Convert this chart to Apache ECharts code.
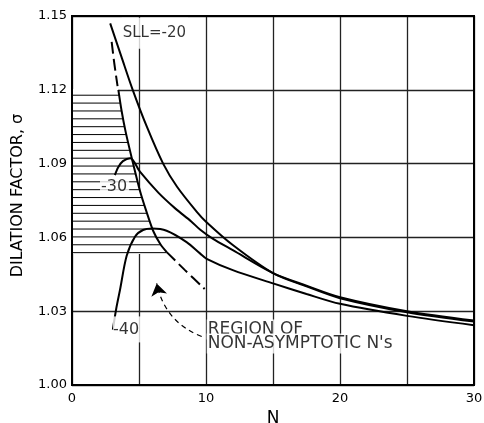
<!DOCTYPE html>
<html>
<head>
<meta charset="utf-8">
<script src="https://cdn.jsdelivr.net/npm/echarts@6/dist/echarts.min.js"></script>
<style>
  html, body { margin: 0; padding: 0; background: #fff; }
  #main { width: 484px; height: 423px; }
</style>
</head>
<body>
<div id="main"></div>
<script>
// N ticks and sigma ticks
var xTicks = [0, 10, 20, 30];
var yTicks = [1.00, 1.03, 1.06, 1.09, 1.12, 1.15];

// curves, [N, sigma]
var curve20 = [[2.85,1.147],[3.68,1.1336],[4.53,1.12],[5.6,1.1048],[6.8,1.09],[7.84,1.0806],[9.33,1.0703],[10,1.0664],[12,1.0569],[15,1.0455],[17.5,1.0401],[20,1.0353],[25,1.0296],[30,1.0258]];
var curve30 = [[3.2,1.0853],[3.45,1.0885],[3.8,1.091],[4.35,1.0922],[5.07,1.0867],[6.44,1.0782],[7.7,1.0718],[8.9,1.0665],[9.55,1.0632],[10.5,1.0595],[12,1.0548],[15,1.0455],[17.5,1.0404],[20,1.0357],[25,1.03],[30,1.0262]];
var curve40 = [[3.05,1.0225],[3.3,1.031],[3.58,1.0386],[4.08,1.0525],[4.7,1.0603],[5.3,1.063],[6.0,1.0636],[7.06,1.0627],[8.55,1.0581],[9.55,1.0535],[10.05,1.0513],[12,1.0467],[15,1.0413],[17.5,1.037],[20,1.033],[25,1.0281],[30,1.0243]];

// limit of the asymptotic region
var limitSolid = [[3.46,1.12],[3.7,1.1115],[4.0,1.103],[4.45,1.0925],[5.07,1.079],[5.57,1.0703],[6.07,1.0625],[6.6,1.0572],[7.07,1.054]];
var limitTop = [[2.96,1.1395],[3.15,1.131],[3.4,1.1215]];
var limitBottom = [[7.07,1.054],[8.43,1.0467],[9.9,1.039]];

// hatch lines: sigma level and where each one meets the limit curve
var hatchLevels = [1.1178,1.1146,1.1114,1.1082,1.105,1.1018,1.0986,1.0954,1.0922,1.089,1.0858,1.0826,1.0794,1.0762,1.073,1.0698,1.0666,1.0634,1.0602,1.057,1.0538];
var hatchEnds = [3.52,3.61,3.70,3.82,3.93,4.05,4.19,4.33,4.46,4.61,4.76,4.90,5.05,5.23,5.41,5.60,5.80,6.01,6.30,6.62,7.07];

// dashed arrow, tail then tip
var arrowPath = [[9.68,1.0197],[6.32,1.0413]];

var labelTexts = ['SLL=-20', '-30', '-40', 'REGION OF', "NON-ASYMPTOTIC N's"];
var labelAt = [[3.71,1.143],[2.09,1.0805],[3.06,1.0226],[10.05,1.0226],[10.05,1.0169]];

var FONT = '"DejaVu Sans", sans-serif';

function curveSeries(data, dash) {
    return {
        type: 'line',
        data: data,
        smooth: 0.3,
        symbol: 'none',
        silent: true,
        z: 4,
        lineStyle: { color: '#000', width: 2, type: dash || 'solid' }
    };
}

var myChart = echarts.init(document.getElementById('main'));

var labelData = labelTexts.map(function (t, i) {
    var pad = [1, 2, 1, 1];
    var size = 16;
    if (i === 0) { pad = [12, 2, 5, 1]; size = 15; }
    if (i === 2) pad = [6, 2, 6, 0];
    if (i >= 3) { pad = [3, 3, 3, 1]; size = 17; }
    return {
        value: labelAt[i],
        label: {
            show: true,
            formatter: t,
            position: 'right',
            distance: 0,
            align: 'left',
            verticalAlign: 'middle',
            fontFamily: FONT,
            fontSize: size,
            lineHeight: 14,
            color: '#000',
            backgroundColor: '#fff',
            padding: pad
        }
    };
});

myChart.setOption({
    animation: false,
    grid: {
        left: 72, top: 16, width: 402, height: 369,
        outerBoundsMode: 'none',
        show: true, borderColor: '#000', borderWidth: 2, z: 10
    },
    xAxis: {
        type: 'value', min: 0, max: 30, interval: 5,
        name: 'N', nameLocation: 'middle', nameGap: 21,
        nameTextStyle: { fontFamily: FONT, fontSize: 17, color: '#000' },
        axisLine: { show: false },
        axisTick: { show: false },
        axisLabel: {
            fontFamily: FONT, fontSize: 13, color: '#000', margin: 7,
            formatter: function (v) { return xTicks.indexOf(v) >= 0 ? String(v) : ''; }
        },
        splitLine: { lineStyle: { color: '#222', width: 1.3 } }
    },
    yAxis: {
        type: 'value', min: 1.00, max: 1.15, interval: 0.03,
        name: 'DILATION FACTOR, σ', nameLocation: 'middle', nameGap: 46,
        nameTextStyle: { fontFamily: FONT, fontSize: 16, color: '#000', padding: [0, 0, 0, 10] },
        axisLine: { show: false },
        axisTick: { show: false },
        axisLabel: {
            fontFamily: FONT, fontSize: 13, color: '#000', margin: 5,
            formatter: function (v) {
                var s = v.toFixed(2);
                return yTicks.some(function (t) { return t.toFixed(2) === s; }) ? s : '';
            }
        },
        splitLine: { lineStyle: { color: '#222', width: 1.3 } }
    },
    series: [
        // white patch plus horizontal hatching of the non-asymptotic region
        {
            type: 'custom',
            silent: true,
            z: 2,
            data: [[0, 1.1]],
            renderItem: function (params, api) {
                var top = 1.1203, bottom = 1.0533;
                var pts = [api.coord([0, top]), api.coord([limitSolid[0][0], top])];
                limitSolid.forEach(function (p) { pts.push(api.coord(p)); });
                pts.push(api.coord([limitSolid[limitSolid.length - 1][0], bottom]));
                pts.push(api.coord([0, bottom]));
                var kids = [{
                    type: 'polygon',
                    shape: { points: pts },
                    style: { fill: '#fff', stroke: null }
                }];
                hatchLevels.forEach(function (s, i) {
                    var a = api.coord([0, s]), b = api.coord([hatchEnds[i], s]);
                    kids.push({
                        type: 'line',
                        shape: { x1: a[0], y1: a[1], x2: b[0], y2: b[1] },
                        style: { stroke: '#000', lineWidth: 1 }
                    });
                });
                return { type: 'group', children: kids };
            }
        },
        curveSeries(curve20),
        curveSeries(curve30),
        curveSeries(curve40),
        curveSeries(limitSolid),
        curveSeries(limitTop, [12, 5]),
        curveSeries(limitBottom, [12, 5]),
        {
            type: 'lines',
            coordinateSystem: 'cartesian2d',
            silent: true,
            z: 4,
            symbol: ['none', 'arrow'],
            symbolSize: [8, 12],
            lineStyle: { color: '#000', width: 1.2, type: [5, 4], curveness: 0.27, opacity: 1 },
            data: [{ coords: arrowPath }]
        },
        {
            type: 'scatter',
            silent: true,
            symbolSize: 0,
            z: 6,
            data: labelData
        }
    ]
});
</script>
</body>
</html>
